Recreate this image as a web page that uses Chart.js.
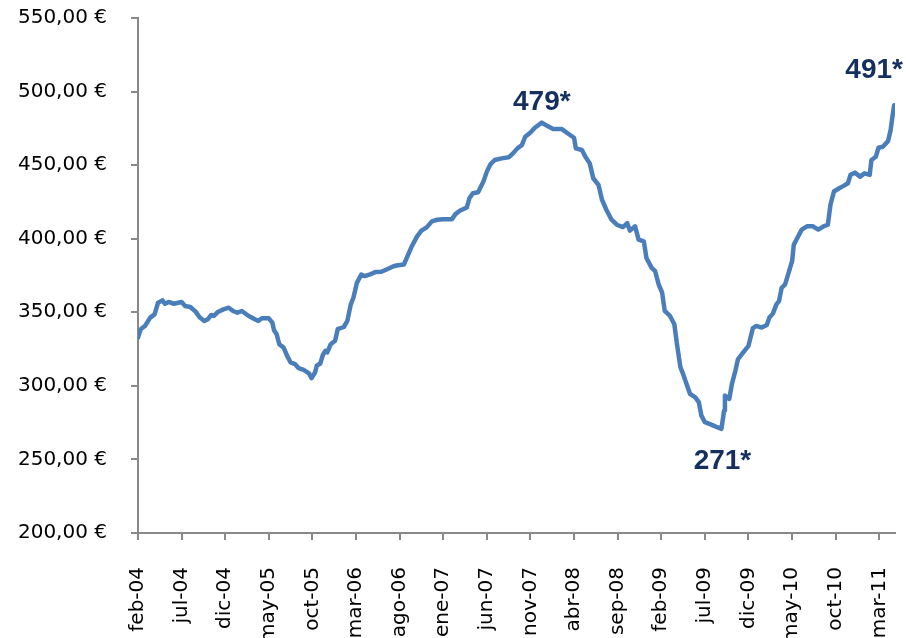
<!DOCTYPE html>
<html>
<head>
<meta charset="utf-8">
<script src="https://cdn.jsdelivr.net/npm/chart.js@4.4.1/dist/chart.umd.min.js"></script>
<style>
  html, body { margin: 0; padding: 0; background: #fff; overflow: hidden; }
</style>
</head>
<body>
<canvas id="chart" width="906" height="638"></canvas>
<script>
// months counted from feb-04
const tick_months = [0, 5, 10, 15, 20, 25, 30, 35, 40, 45, 50, 55, 60, 65, 70, 75, 80, 85];
const tick_labels = ['feb-04', 'jul-04', 'dic-04', 'may-05', 'oct-05', 'mar-06', 'ago-06', 'ene-07', 'jun-07',
    'nov-07', 'abr-08', 'sep-08', 'feb-09', 'jul-09', 'dic-09', 'may-10', 'oct-10', 'mar-11'];

const month_pos = [
    0.0, 0.3, 0.8, 1.4, 1.9, 2.3, 2.8, 3.1, 3.5, 4.1,
    5.0, 5.4, 6.0, 6.6, 7.1, 7.6, 8.0, 8.4, 8.7, 9.2,
    9.8, 10.4, 10.9, 11.4, 11.9, 12.7, 13.4, 13.8, 14.2, 15.0,
    15.4, 15.6, 15.9, 16.2, 16.7, 17.1, 17.5, 18.0, 18.4, 19.0,
    19.6, 19.9, 20.3, 20.5, 20.9, 21.2, 21.5, 21.7, 22.1, 22.6,
    22.9, 23.6, 24.0, 24.4, 24.7, 25.1, 25.6, 26.0, 26.6, 27.2,
    27.9, 28.5, 29.3, 29.8, 30.5, 30.9, 31.4, 32.0, 32.5, 33.1,
    33.7, 34.3, 35.0, 36.0, 36.4, 36.9, 37.7, 38.0, 38.4, 39.0,
    39.6, 40.0, 40.4, 40.9, 41.7, 42.5, 43.0, 43.5, 44.0, 44.4,
    45.0, 45.5, 46.3, 46.9, 47.6, 48.6, 49.3, 50.0, 50.2, 50.9,
    51.3, 51.8, 52.2, 52.8, 53.2, 53.7, 54.3, 54.9, 55.6, 56.1,
    56.4, 57.0, 57.4, 58.0, 58.3, 58.9, 59.3, 59.7, 60.1, 60.4,
    61.0, 61.5, 61.8, 62.2, 62.5, 62.9, 63.3, 63.9, 64.3, 64.6,
    65.0, 65.8, 66.4, 66.9, 67.2, 67.3, 67.8, 68.1, 68.5, 68.8,
    69.4, 70.0, 70.5, 70.9, 71.5, 72.1, 72.4, 72.8, 73.2, 73.5,
    73.8, 74.2, 74.6, 75.0, 75.2, 75.6, 76.1, 76.7, 77.4, 78.0,
    78.6, 79.1, 79.4, 79.8, 80.4, 80.9, 81.4, 81.7, 82.2, 82.8,
    83.3, 83.9, 84.1, 84.6, 84.9, 85.4, 86.0, 86.3, 86.5, 86.7
];
const price = [
    332.8, 338.5, 340.7, 346.4, 348.6, 356.5, 358.1, 355.8, 357.0, 355.8,
    357.0, 354.3, 353.6, 350.4, 346.4, 344.1, 345.3, 348.2, 347.5, 350.4,
    352.0, 353.1, 350.9, 349.7, 350.9, 347.5, 345.3, 344.1, 345.9, 345.9,
    343.0, 337.8, 335.1, 328.3, 326.0, 320.4, 315.9, 314.8, 312.1, 310.8,
    308.5, 305.3, 309.1, 313.7, 315.2, 321.1, 323.8, 322.7, 328.3, 330.6,
    338.5, 340.0, 344.1, 355.4, 359.9, 370.0, 375.7, 374.6, 375.7, 377.3,
    377.5, 379.1, 381.3, 382.0, 382.5, 388.1, 394.9, 401.6, 405.5, 407.7,
    411.8, 412.9, 413.3, 413.3, 416.7, 419.0, 421.2, 427.5, 430.9, 431.6,
    438.8, 445.6, 450.5, 453.5, 454.6, 455.3, 458.0, 461.4, 463.5, 469.3,
    472.2, 475.4, 478.9, 476.7, 474.5, 474.5, 471.5, 468.6, 461.4, 460.3,
    455.7, 451.2, 441.1, 436.6, 426.5, 419.7, 412.9, 409.5, 407.9, 410.6,
    405.5, 408.4, 399.4, 398.2, 386.9, 380.2, 377.9, 368.9, 363.3, 350.9,
    347.5, 341.9, 328.3, 312.5, 308.1, 301.3, 294.5, 292.2, 289.0, 279.8,
    275.3, 273.5, 271.9, 270.8, 283.2, 293.4, 291.1, 301.3, 310.3, 318.2,
    322.7, 327.2, 339.2, 340.7, 339.6, 341.4, 346.4, 349.1, 355.4, 357.6,
    366.6, 368.9, 376.8, 384.7, 396.0, 400.5, 406.2, 408.4, 408.4, 406.2,
    408.4, 409.5, 423.1, 432.1, 434.3, 435.9, 437.7, 443.4, 444.9, 442.2,
    444.4, 443.4, 453.5, 455.7, 461.8, 462.5, 466.3, 473.8, 482.8, 490.7
];

// the 2007 high, the 2009 low and the last value
const callout_months = [46.3, 66.9, 86.7];
const callout_texts = ['479*', '271*', '491*'];

const line_color = '#4a7ebb';
const axis_color = '#898989';
const callout_color = '#15305f';

const callout_plugin = {
    id: 'callouts',
    afterDatasetsDraw(chart) {
        const ctx = chart.ctx;
        const x_scale = chart.scales.x;
        const y_scale = chart.scales.y;
        const shift = [[0, -20], [1, 32], [-20, -35]];
        ctx.save();
        ctx.font = 'bold 28px "Liberation Sans", Arial, sans-serif';
        ctx.fillStyle = callout_color;
        ctx.textAlign = 'center';
        ctx.textBaseline = 'middle';
        callout_months.forEach((m, i) => {
            const idx = month_pos.indexOf(m);
            const px = x_scale.getPixelForValue(m);
            const py = y_scale.getPixelForValue(price[idx]);
            ctx.fillText(callout_texts[i], px + shift[i][0], py + shift[i][1]);
        });
        ctx.restore();
    }
};

const chart_element = document.getElementById('chart');

new Chart(chart_element, {
    type: 'line',
    data: {
        datasets: [{
            data: month_pos.map((m, i) => ({ x: m, y: price[i] })),
            borderColor: line_color,
            borderWidth: 4.5,
            borderJoinStyle: 'round',
            borderCapStyle: 'round',
            pointRadius: 0,
            tension: 0,
            fill: false
        }]
    },
    options: {
        responsive: false,
        animation: false,
        layout: { padding: { top: 18, right: 11, left: 0, bottom: 0 } },
        plugins: {
            legend: { display: false },
            tooltip: { enabled: false }
        },
        scales: {
            x: {
                type: 'linear',
                min: 0,
                max: 86.8,
                afterBuildTicks: scale => {
                    scale.ticks = tick_months.map(v => ({ value: v }));
                },
                afterFit: scale => {
                    scale.height = 105;
                    scale.paddingLeft = 0;
                    scale.paddingRight = 0;
                },
                grid: {
                    drawOnChartArea: false,
                    drawTicks: true,
                    tickLength: 7,
                    color: axis_color,
                    lineWidth: 2
                },
                border: { color: axis_color, width: 2 },
                ticks: {
                    autoSkip: false,
                    minRotation: 90,
                    maxRotation: 90,
                    padding: 27,
                    color: '#000',
                    font: { family: '"DejaVu Sans", sans-serif', size: 20 },
                    callback: value => tick_labels[tick_months.indexOf(value)]
                }
            },
            y: {
                min: 200,
                max: 550,
                afterFit: scale => {
                    scale.width = 138;
                    scale.paddingTop = 0;
                    scale.paddingBottom = 0;
                },
                grid: {
                    drawOnChartArea: false,
                    drawTicks: true,
                    tickLength: 7,
                    color: axis_color,
                    lineWidth: 2
                },
                border: { color: axis_color, width: 2 },
                ticks: {
                    stepSize: 50,
                    padding: 24,
                    color: '#000',
                    font: { family: '"DejaVu Sans", sans-serif', size: 20 },
                    callback: value => value.toFixed(2).replace('.', ',') + ' €'
                }
            }
        }
    },
    plugins: [callout_plugin]
});
</script>
</body>
</html>
